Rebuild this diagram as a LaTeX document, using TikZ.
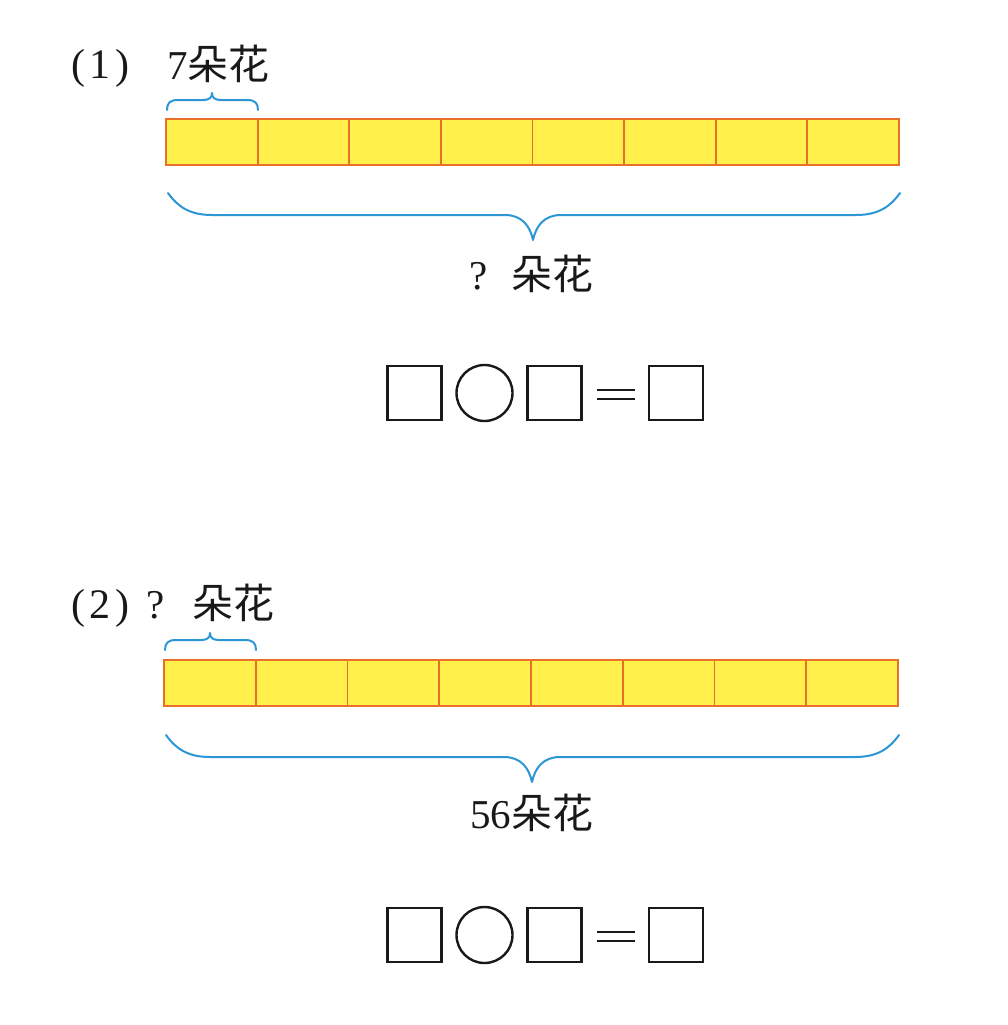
\documentclass[tikz,border=0pt]{standalone}
\usepackage{fontspec}
\setmainfont{Liberation Serif}
\newfontfamily\cjk{Noto Sans CJK SC}
\definecolor{baryellow}{RGB}{255,240,75}
\definecolor{barorange}{RGB}{232,112,40}
\definecolor{braceblue}{RGB}{45,150,215}
\definecolor{ink}{RGB}{25,25,25}
\begin{document}
\begin{tikzpicture}[x=1pt,y=-1pt,
  cell/.style={draw=barorange, fill=baryellow, line width=1.8pt, minimum width=91.6pt, minimum height=46pt, inner sep=0pt, outer sep=0pt},
  brace/.style={draw=braceblue, line width=2pt, line cap=round, line join=round},
  eqbox/.style={draw=ink, line width=2.4pt, minimum width=54pt, minimum height=54pt, inner sep=0pt, outer sep=0pt},
  eqcirc/.style={circle, draw=ink, line width=2.4pt, minimum size=56pt, inner sep=0pt, outer sep=0pt},
  eqsign/.style={minimum width=38pt, minimum height=9pt, inner sep=0pt, outer sep=0pt},
  eqline/.style={draw=ink, line width=2.4pt},
  lbl/.style={inner sep=0pt, outer sep=0pt, anchor=base west, text=ink, font=\fontsize{41}{46}\selectfont},
  num/.style={inner sep=0pt, outer sep=0pt, anchor=base west, text=ink, font=\fontsize{42}{46}\selectfont}
]
\useasboundingbox[fill=white] (0,0) rectangle (1008,1025);

% ---------- part 1 ----------
\node[num] (n1) at (71,78) {(\hspace{5pt}1\hspace{5pt})};
\node[lbl] (t1) at (167,80) {7{\cjk 朵花}};
\draw[brace] (167,110) .. controls (167,103) and (170,100) .. (178,100) -- (203,100)
  .. controls (209,100) and (212,98) .. (212,93) .. controls (212,98) and (215,100) .. (221,100)
  -- (247,100) .. controls (255,100) and (258,103) .. (258,110);
\foreach \i in {1,...,8}
  \node[cell] (a\i) at ({166+91.625*(\i-0.5)},142) {};
\draw[brace] (168,193) .. controls (178,207) and (190,215) .. (212,215) -- (505,215)
  .. controls (522,215) and (530,226) .. (533,240) .. controls (536,226) and (544,215) .. (561,215)
  -- (856,215) .. controls (878,215) and (890,207) .. (900,193);
\node[lbl] (s1) at (469,289) {?\hspace{24pt}{\cjk 朵花}};
\node[eqbox] (p1) at (414.5,393) {};
\node[eqcirc] (o1) at (484.5,393) {};
\node[eqbox] (q1) at (554.5,393) {};
\node[eqsign] (e1) at (616,394.5) {};
\draw[eqline] (e1.north west) -- (e1.north east);
\draw[eqline] (e1.south west) -- (e1.south east);
\node[eqbox] (r1) at (676,393) {};

% ---------- part 2 ----------
\node[num] (n2) at (71,618) {(\hspace{5pt}2\hspace{5pt})};
\node[lbl] (t2) at (146,618) {?\hspace{28pt}{\cjk 朵花}};
\draw[brace] (165,650) .. controls (165,643) and (168,640) .. (176,640) -- (201,640)
  .. controls (207,640) and (210,638) .. (210,633) .. controls (210,638) and (213,640) .. (219,640)
  -- (245,640) .. controls (253,640) and (256,643) .. (256,650);
\foreach \i in {1,...,8}
  \node[cell] (b\i) at ({164+91.75*(\i-0.5)},683) {};
\draw[brace] (166,735) .. controls (176,749) and (188,757) .. (210,757) -- (504,757)
  .. controls (521,757) and (529,768) .. (532,782) .. controls (535,768) and (543,757) .. (560,757)
  -- (855,757) .. controls (877,757) and (889,749) .. (899,735);
\node[lbl] (s2) at (470,828) {56{\cjk 朵花}};
\node[eqbox] (p2) at (414.5,935) {};
\node[eqcirc] (o2) at (484.5,935) {};
\node[eqbox] (q2) at (554.5,935) {};
\node[eqsign] (e2) at (616,936.5) {};
\draw[eqline] (e2.north west) -- (e2.north east);
\draw[eqline] (e2.south west) -- (e2.south east);
\node[eqbox] (r2) at (676,935) {};
\end{tikzpicture}
\end{document}
